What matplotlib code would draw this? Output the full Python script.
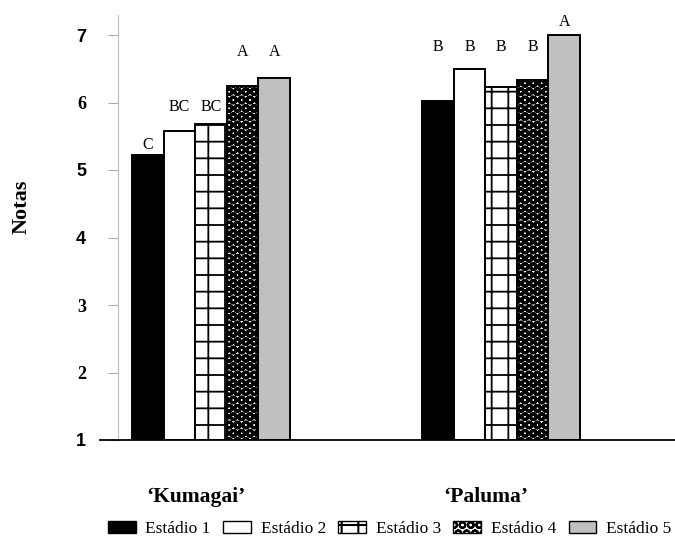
import matplotlib
matplotlib.use("Agg")
import matplotlib.pyplot as plt
import matplotlib.transforms as mtransforms
from matplotlib.patches import Patch
import numpy as np

cultivars = ["‘Kumagai’", "‘Paluma’"]
stages = ["Estádio 1", "Estádio 2", "Estádio 3", "Estádio 4", "Estádio 5"]
estadio1 = [5.22, 6.02]
estadio2 = [5.58, 6.50]
estadio3 = [5.68, 6.23]
estadio4 = [6.24, 6.33]
estadio5 = [6.37, 7.00]
letters = [["C", "BC", "BC", "A", "A"], ["B", "B", "B", "B", "A"]]
letter_levels = [[5.37, 5.93, 5.93, 6.75, 6.75], [6.82, 6.82, 6.82, 6.82, 7.19]]
yticks = [1, 2, 3, 4, 5, 6, 7]

series = [estadio1, estadio2, estadio3, estadio4, estadio5]
faces = ["black", "white", "white", "white", "#c0c0c0"]
hatches = [None, None, "+", "OO", None]
hatch_lw = [1.0, 1.0, 1.3, 2.2, 1.0]

fig = plt.figure(figsize=(6.75, 5.4), dpi=100)
ax = fig.add_axes([100 / 675, 1 - 440 / 540, 575 / 675, (440 - 14.75) / 540])

x = np.arange(len(cultivars))
w = 0.109
handles = []
for i, vals in enumerate(series):
    with plt.rc_context({"hatch.linewidth": hatch_lw[i], "hatch.color": "black"}):
        bars = ax.bar(x + (i - 2) * w, np.array(vals) - 1, bottom=1, width=w,
                      color=faces[i], edgecolor="black", linewidth=1.4,
                      hatch=hatches[i], zorder=3)
        handles.append(Patch(facecolor=faces[i], edgecolor="black", linewidth=1.0,
                             hatch=hatches[i], label=stages[i]))
    for j, b in enumerate(bars):
        ax.text(b.get_x() + b.get_width() / 2, letter_levels[j][i], letters[j][i],
                ha="center", va="center", fontsize=11.5, family="Liberation Serif",
                clip_on=False)

ax.set_xlim(-0.383, 1.6)
ax.set_ylim(1, 7.3)
for s in ["top", "right"]:
    ax.spines[s].set_visible(False)
ax.spines["bottom"].set_linewidth(1.3)
ax.spines["bottom"].set_zorder(4)
ax.spines["left"].set_position(("data", -0.321))
ax.spines["left"].set_color("#bbbbbb")
ax.spines["left"].set_linewidth(0.8)

ax.set_yticks(yticks)
ax.set_yticklabels([str(t) for t in yticks])
ax.tick_params(axis="y", direction="out", length=7, width=0.8, color="#aaaaaa", pad=16)
serif_ticks = {"6", "3", "2"}
for lab in ax.get_yticklabels():
    lab.set_fontweight("bold")
    lab.set_fontsize(13)
    lab.set_family("Liberation Serif" if lab.get_text() in serif_ticks else "Liberation Sans")

ax.set_xticks(x)
ax.set_xticklabels(cultivars, fontsize=15.5, fontweight="bold", family="Liberation Serif")
ax.tick_params(axis="x", length=0, pad=34)
offset = mtransforms.ScaledTranslation(-0.15, 0, fig.dpi_scale_trans)
for lab in ax.get_xticklabels():
    lab.set_transform(lab.get_transform() + offset)

fig.text(22 / 675, 1 - 207 / 540, "Notas", rotation=90, ha="center", va="center",
         fontsize=16, fontweight="bold", family="Liberation Serif")

with plt.rc_context({"hatch.linewidth": 1.5}):
    leg = fig.legend(handles=handles, loc="center left", ncol=5,
                     bbox_to_anchor=(108 / 675, 1 - 529 / 540), frameon=False,
                     borderpad=0, borderaxespad=0, handlelength=1.6, handleheight=0.7,
                     handletextpad=0.55, columnspacing=0.72,
                     prop={"family": "Liberation Serif", "size": 12.5})

fig.savefig("out.png", dpi=100)
